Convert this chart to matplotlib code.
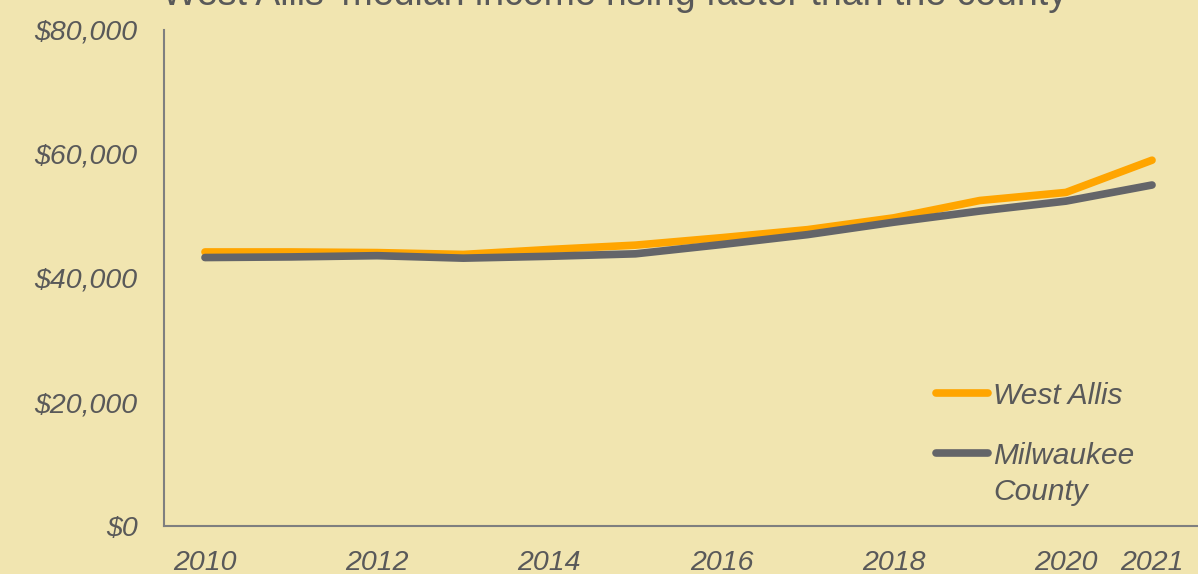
import matplotlib.pyplot as plt
from matplotlib.lines import Line2D
from matplotlib.ticker import FuncFormatter

years = [2010, 2011, 2012, 2013, 2014, 2015, 2016, 2017, 2018, 2019, 2020, 2021]
west_allis = [44200, 44200, 44100, 43800, 44600, 45300, 46500, 47800, 49700, 52500, 53800, 59000]
milwaukee = [43300, 43400, 43600, 43200, 43500, 43900, 45400, 47000, 49000, 50800, 52400, 55000]
xticks = [2010, 2012, 2014, 2016, 2018, 2020, 2021]

bg = "#F1E5B0"
txt = "#595959"
orange = "#FFA500"
grey = "#646569"
plt.rcParams["font.family"] = ["Liberation Sans", "DejaVu Sans"]

W, H = 1198, 574
fig = plt.figure(figsize=(W / 100, H / 100), dpi=100, facecolor=bg)
ax = fig.add_axes([164 / W, 48 / H, 1034 / W, 496 / H])
ax.set_facecolor(bg)

ax.plot(years, west_allis, color=orange, lw=5.5, solid_capstyle="round",
        solid_joinstyle="round", zorder=2)
ax.plot(years, milwaukee, color=grey, lw=5.5, solid_capstyle="round",
        solid_joinstyle="round", zorder=3)

ax.set_xlim(2009.524, 2021.534)
ax.set_ylim(0, 80000)
ax.set_yticks([0, 20000, 40000, 60000, 80000])
ax.yaxis.set_major_formatter(FuncFormatter(lambda v, p: f"${v:,.0f}"))
ax.set_xticks(xticks)
ax.tick_params(length=0, labelsize=20.5, labelcolor=txt)
ax.tick_params(axis="y", pad=19)
ax.tick_params(axis="x", pad=17)
for lab in ax.get_xticklabels() + ax.get_yticklabels():
    lab.set_fontstyle("italic")

for s in ["top", "right"]:
    ax.spines[s].set_visible(False)
for s in ["left", "bottom"]:
    ax.spines[s].set_color("#7F7F7F")
    ax.spines[s].set_linewidth(1.5)

# legend drawn by hand so the handle lines up with the first text line
for (name, col, ypix) in [("West Allis", orange, 393), ("Milwaukee\nCounty", grey, 453)]:
    fig.add_artist(Line2D([936 / W, 988 / W], [1 - ypix / H] * 2, color=col, lw=5.5,
                          solid_capstyle="round", transform=fig.transFigure))
    fig.text(993 / W, 1 - (ypix - 11) / H, name, ha="left", va="top", fontsize=21.5,
             style="italic", color=txt, linespacing=1.38)

fig.text(615 / W, 1 - 5 / H, "West Allis' median income rising faster than the county",
         ha="center", va="baseline", fontsize=27, color=txt)

fig.savefig("out.png", dpi=100, facecolor=bg)
